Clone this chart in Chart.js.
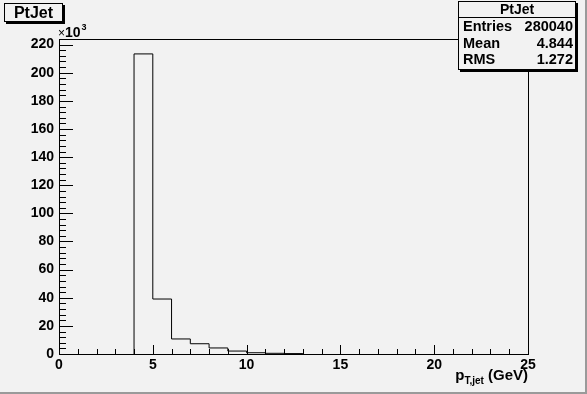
<!DOCTYPE html>
<html>
<head>
<meta charset="utf-8">
<script src="https://cdn.jsdelivr.net/npm/chart.js@4/dist/chart.umd.min.js"></script>
<style>
    body { margin: 0; background: #f2f2f2; }
    #wrap {
        position: relative;
        width: 585px;
        height: 392px;
        background: #f2f2f2;
        border-right: 2px solid #9a9a9a;
        border-bottom: 2px solid #9a9a9a;
        font-family: "Liberation Sans", Arial, sans-serif;
        font-weight: bold;
    }
    canvas { position: absolute; left: 0; top: 0; }
    .box {
        position: absolute;
        background: #f2f2f2;
        border: 1px solid #000;
        box-shadow: 2px 2px 0 #000;
        color: #000;
    }
    #title {
        left: 4px; top: 3px; width: 57px; height: 17px;
        font-size: 16px; line-height: 18px; text-align: center;
    }
    #stats {
        left: 458px; top: 1px; width: 116px; height: 67px;
        font-size: 14.5px;
    }
    #stats .head { text-align: center; height: 15px; line-height: 15px; border-bottom: 1px solid #000; font-size: 14px; }
    #stats .row { display: flex; justify-content: space-between; padding: 0 2px 0 4px; height: 16.5px; line-height: 17px; }
</style>
</head>
<body>
<div id="wrap">
    <canvas id="histo" width="587" height="394"></canvas>
    <div class="box" id="title">PtJet</div>
    <div class="box" id="stats">
        <div class="head">PtJet</div>
        <div class="row"><span>Entries</span><span>280040</span></div>
        <div class="row"><span>Mean</span><span>4.844</span></div>
        <div class="row"><span>RMS</span><span>1.272</span></div>
    </div>
</div>
<script>
// Histogram data (bin lower edges and contents)
const binEdges = [4, 5, 6, 7, 8, 9, 10, 11, 12, 13];
const binCounts = [213400, 39100, 10700, 7300, 4300, 2100, 900, 500, 300];

const xMin = 0, xMax = 25, xStep = 1, xMajor = 5;
const yMin = 0, yMax = 224000, yStep = 4000, yMajor = 20000;

// outline points for a stepped line
const outline = [{x: binEdges[0], y: 0}];
binCounts.forEach((c, i) => outline.push({x: binEdges[i], y: c}));
outline.push({x: binEdges[binEdges.length - 1], y: 0});

const tickFont = { family: '"Liberation Sans", Arial, sans-serif', size: 14, weight: 'bold' };

// Frame, inward ticks, axis titles
const rootFrame = {
    id: 'rootFrame',
    afterDraw(chart) {
        const ctx = chart.ctx;
        const a = chart.chartArea;
        const xs = chart.scales.x, ys = chart.scales.y;
        ctx.save();
        ctx.strokeStyle = '#000';
        ctx.lineWidth = 1;
        ctx.strokeRect(Math.round(a.left) + 0.5, Math.round(a.top) + 0.5,
            Math.round(a.right - a.left), Math.round(a.bottom - a.top));

        ctx.beginPath();
        xs.ticks.forEach(t => {
            const px = Math.round(xs.getPixelForValue(t.value)) + 0.5;
            const len = t.value % xMajor === 0 ? 9 : 5;
            ctx.moveTo(px, a.bottom);
            ctx.lineTo(px, a.bottom - len);
        });
        ys.ticks.forEach(t => {
            const py = Math.round(ys.getPixelForValue(t.value)) + 0.5;
            const len = t.value % yMajor === 0 ? 14 : 7;
            ctx.moveTo(a.left, py);
            ctx.lineTo(a.left + len, py);
        });
        ctx.stroke();

        // x10^3 multiplier
        ctx.fillStyle = '#000';
        ctx.textBaseline = 'alphabetic';
        ctx.textAlign = 'left';
        ctx.font = '12px "Liberation Sans", Arial, sans-serif';
        ctx.fillText('\u00d7', 58, 37);
        let w = ctx.measureText('\u00d7').width;
        ctx.font = 'bold 14px "Liberation Sans", Arial, sans-serif';
        ctx.fillText('10', 58 + w, 37);
        w += ctx.measureText('10').width;
        ctx.font = 'bold 9px "Liberation Sans", Arial, sans-serif';
        ctx.fillText('3', 59 + w, 30);

        // x axis title p_{T,jet} (GeV), right aligned with frame
        const main = 'bold 15px "Liberation Sans", Arial, sans-serif';
        const sub = 'bold 10px "Liberation Sans", Arial, sans-serif';
        ctx.font = main;
        const wGev = ctx.measureText(' (GeV)').width;
        const wP = ctx.measureText('p').width;
        ctx.font = sub;
        const wSub = ctx.measureText('T,jet').width;
        let x0 = a.right - wGev - wSub - wP;
        ctx.font = main;
        ctx.fillText('p', x0, 380);
        ctx.font = sub;
        ctx.fillText('T,jet', x0 + wP, 384);
        ctx.font = main;
        ctx.fillText(' (GeV)', x0 + wP + wSub, 380);
        ctx.restore();
    }
};

new Chart(document.getElementById('histo'), {
    type: 'line',
    data: {
        datasets: [{
            data: outline,
            stepped: 'before',
            borderColor: '#000',
            borderWidth: 1,
            pointRadius: 0,
            fill: false
        }]
    },
    options: {
        responsive: false,
        animation: false,
        events: [],
        layout: { padding: { left: 0, top: 39, right: 59, bottom: 0 } },
        plugins: { legend: { display: false }, tooltip: { enabled: false } },
        scales: {
            x: {
                type: 'linear',
                min: xMin, max: xMax,
                grid: { display: false, drawTicks: false },
                border: { display: false },
                afterFit: s => { s.height = 40; },
                ticks: {
                    stepSize: xStep,
                    autoSkip: false,
                    maxRotation: 0,
                    padding: 3,
                    color: '#000',
                    font: tickFont,
                    callback: v => (v % xMajor === 0 ? String(v) : '')
                }
            },
            y: {
                min: yMin, max: yMax,
                grid: { display: false, drawTicks: false },
                border: { display: false },
                afterFit: s => { s.width = 59; },
                ticks: {
                    stepSize: yStep,
                    autoSkip: false,
                    padding: 5,
                    color: '#000',
                    font: tickFont,
                    callback: v => (v % yMajor === 0 ? String(v / 1000) : '')
                }
            }
        }
    },
    plugins: [rootFrame]
});
</script>
</body>
</html>
